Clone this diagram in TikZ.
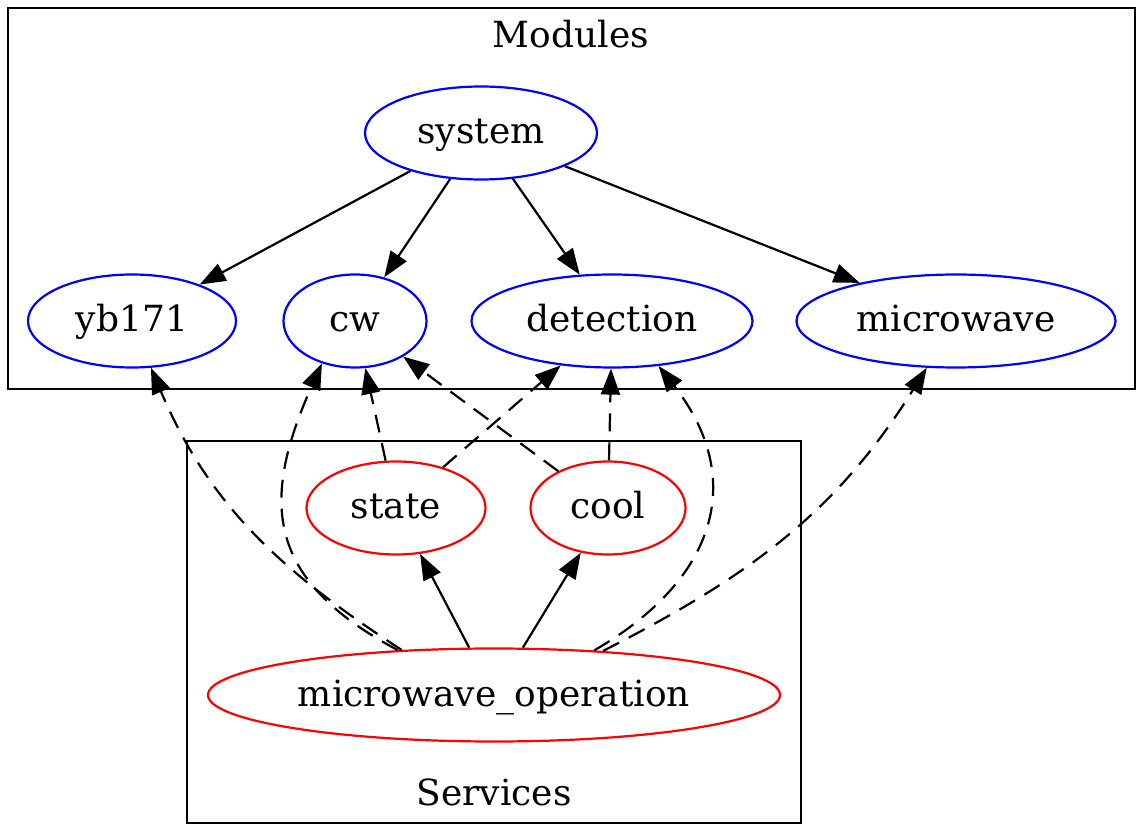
\documentclass[tikz,border=0pt]{standalone}
\usepackage{fontspec}
\setmainfont{DejaVu Serif}
\usetikzlibrary{shapes.geometric,arrows.meta}
\begin{document}
\begin{tikzpicture}[x=1pt,y=1pt,
  every node/.style={font=\fontsize{36}{40}\selectfont},
  gnode/.style={ellipse,draw,line width=2.2pt,inner sep=0pt,text height=27pt,text depth=5pt},
  mnode/.style={gnode,blue,text=black,minimum height=93pt},
  snode/.style={gnode,red,text=black,minimum height=93pt},
  edge/.style={line width=2.2pt,-{Triangle[length=26pt,width=19pt]}},
  dedge/.style={edge,dash pattern=on 18pt off 11pt},
  cluster/.style={line width=2.2pt}]
\useasboundingbox (0,0) rectangle (1143,828);
\draw[cluster] (8,439) rectangle (1135,820);
\node[text height=27pt,text depth=5pt] (modlabel) at (571,791) {Modules};
\draw[cluster] (187,5) rectangle (801,387);
\node[text height=27pt,text depth=5pt] (servlabel) at (494,34) {Services};

\node[mnode,minimum width=232pt] (system) at (481,695) {system};
\node[mnode,minimum width=208pt] (yb171) at (132,507) {yb171};
\node[mnode,minimum width=143pt] (cw) at (355,507) {cw};
\node[mnode,minimum width=281pt] (detection) at (612,507) {detection};
\node[mnode,minimum width=319pt] (microwave) at (956,507) {microwave};
\node[snode,minimum width=179pt] (state) at (396,320) {state};
\node[snode,minimum width=155pt] (cool) at (608,320) {cool};
\node[snode,minimum width=572pt] (mo) at (494,133) {microwave\_operation};

\draw[edge] (system) -- (yb171);
\draw[edge] (system) -- (cw);
\draw[edge] (system) -- (detection);
\draw[edge] (system) -- (microwave);
\draw[edge] (mo) -- (state);
\draw[edge] (mo) -- (cool);
\draw[dedge] (state) -- (cw);
\draw[dedge] (state) -- (detection);
\draw[dedge] (cool) -- (cw);
\draw[dedge] (cool) -- (detection);
\draw[dedge] (mo.154) to[out=147,in=-67] (yb171.-68);
\draw[dedge] (mo.155) to[out=152,in=-114,looseness=1.3] (cw.-128);
\draw[dedge] (mo.24) to[out=30,in=-52,looseness=1.25] (detection.-44);
\draw[dedge] (mo.22) to[out=27,in=-122] (microwave.-122);
\end{tikzpicture}
\end{document}
